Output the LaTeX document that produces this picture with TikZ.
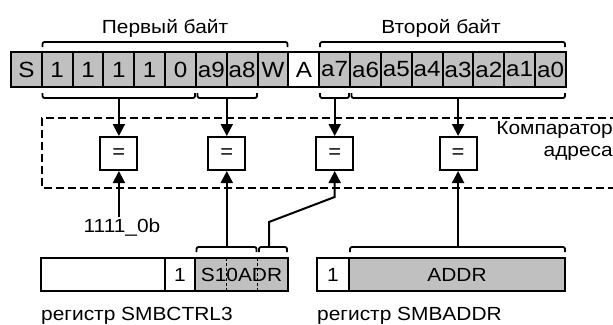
\documentclass[tikz,border=0pt]{standalone}
\usepackage{fontspec}
\setmainfont{Liberation Sans}[FakeStretch=1.1]
\usetikzlibrary{arrows.meta}
\definecolor{cellgray}{RGB}{192,192,192}
\tikzset{
  cell/.style={draw,line width=2pt,fill=cellgray,minimum width=30.83pt,minimum height=35pt,inner sep=0pt,font=\fontsize{22}{26}\selectfont},
  reg/.style={draw,line width=2pt,fill=cellgray,minimum height=33pt,inner sep=0pt,font=\fontsize{19}{22}\selectfont},
  cmpbox/.style={draw,line width=2pt,fill=white,minimum width=37pt,minimum height=33pt,inner sep=0pt,font=\fontsize{20}{22}\selectfont},
  lbl/.style={inner sep=1pt,font=\fontsize{19}{22}\selectfont},
  brc/.style={line width=1.8pt,rounded corners=2pt},
  arr/.style={line width=2pt,-{Triangle[length=12pt,width=12pt]}},
  divl/.style={line width=0.9pt,dash pattern=on 3pt off 2pt},
  cmpframe/.style={line width=2pt,dash pattern=on 8pt off 4pt}
}
\begin{document}
\begin{tikzpicture}[x=1pt,y=-1pt]
\useasboundingbox (0,0) rectangle (613,324);
\draw[cmpframe] (630,118) -- (42,118) -- (42,188) -- (630,188);
\node[lbl,align=right,anchor=north east,inner sep=0pt] (cmplbl) at (613,121) {Компаратор\\адреса};
\node[cell] (c0) at (26.4,69.5) {S};
\node[cell] (c1) at (57.2,69.5) {1};
\node[cell] (c2) at (88.1,69.5) {1};
\node[cell] (c3) at (118.9,69.5) {1};
\node[cell] (c4) at (149.7,69.5) {1};
\node[cell] (c5) at (180.6,69.5) {0};
\node[cell] (c6) at (211.4,69.5) {a9};
\node[cell] (c7) at (242.2,69.5) {a8};
\node[cell] (c8) at (273.1,69.5) {W};
\node[cell,fill=white] (c9) at (303.9,69.5) {A};
\node[cell] (c10) at (334.7,69.5) {a7};
\node[cell] (c11) at (365.6,69.5) {a6};
\node[cell] (c12) at (396.4,69.5) {a5};
\node[cell] (c13) at (427.2,69.5) {a4};
\node[cell] (c14) at (458.1,69.5) {a3};
\node[cell] (c15) at (488.9,69.5) {a2};
\node[cell] (c16) at (519.7,69.5) {a1};
\node[cell] (c17) at (550.6,69.5) {a0};
\node[lbl,anchor=base] (byte1) at (165,33) {Первый байт};
\node[lbl,anchor=base] (byte2) at (441,33) {Второй байт};
\draw[brc] (42.5,47) -- (42.5,42) -- (287.5,42) -- (287.5,47);
\draw[brc] (320,47) -- (320,42) -- (565,42) -- (565,47);
\draw[brc] (42.5,93) -- (42.5,98) -- (195,98) -- (195,93);
\draw[brc] (197.5,93) -- (197.5,98) -- (257,98) -- (257,93);
\draw[brc] (320,93) -- (320,98) -- (349,98) -- (349,93);
\draw[brc] (351.5,93) -- (351.5,98) -- (565,98) -- (565,93);
\coordinate (t1) at (118.9,98);
\coordinate (t2) at (226.8,98);
\coordinate (t3) at (334.7,98);
\coordinate (t4) at (458.1,98);
\node[cmpbox] (cmp1) at (118.9,153.5) {=};
\node[cmpbox] (cmp2) at (226.8,153.5) {=};
\node[cmpbox] (cmp3) at (334.7,153.5) {=};
\node[cmpbox] (cmp4) at (458.1,153.5) {=};
\draw[arr] (t1) -- (cmp1);
\draw[arr] (t2) -- (cmp2);
\draw[arr] (t3) -- (cmp3);
\draw[arr] (t4) -- (cmp4);
\node[lbl,anchor=base] (const) at (122,232) {1111\_0b};
\draw[arr] (cmp1 |- const.north) -- (cmp1);
\node[reg,fill=white,minimum width=124pt] (r1a) at (103,274.5) {};
\node[reg,fill=white,minimum width=30pt] (r1b) at (180,274.5) {1};
\node[reg,minimum width=93pt] (r1c) at (241.5,274.5) {S10ADR};
\draw[divl] (226.8,258) -- (226.8,291);
\draw[divl] (257.6,258) -- (257.6,291);
\node[reg,fill=white,minimum width=32pt] (r2a) at (333,274.5) {1};
\node[reg,minimum width=216pt] (r2b) at (457,274.5) {ADDR};
\draw[brc] (196.5,252) -- (196.5,247) -- (256.5,247) -- (256.5,252);
\draw[brc] (259,252) -- (259,247) -- (287,247) -- (287,252);
\draw[brc] (350,252) -- (350,247) -- (565,247) -- (565,252);
\coordinate (s1) at (226.8,247);
\coordinate (s2) at (269,247);
\coordinate (s3) at (458.1,247);
\coordinate (k1) at (269,222);
\coordinate (k2) at (334.7,197);
\draw[arr] (s1) -- (cmp2);
\draw[arr] (s2) -- (k1) -- (k2) -- (cmp3);
\draw[arr] (s3) -- (cmp4);
\node[lbl,anchor=base west] (reg1) at (40,320) {регистр SMBCTRL3};
\node[lbl,anchor=base west] (reg2) at (316,320) {регистр SMBADDR};
\end{tikzpicture}
\end{document}
